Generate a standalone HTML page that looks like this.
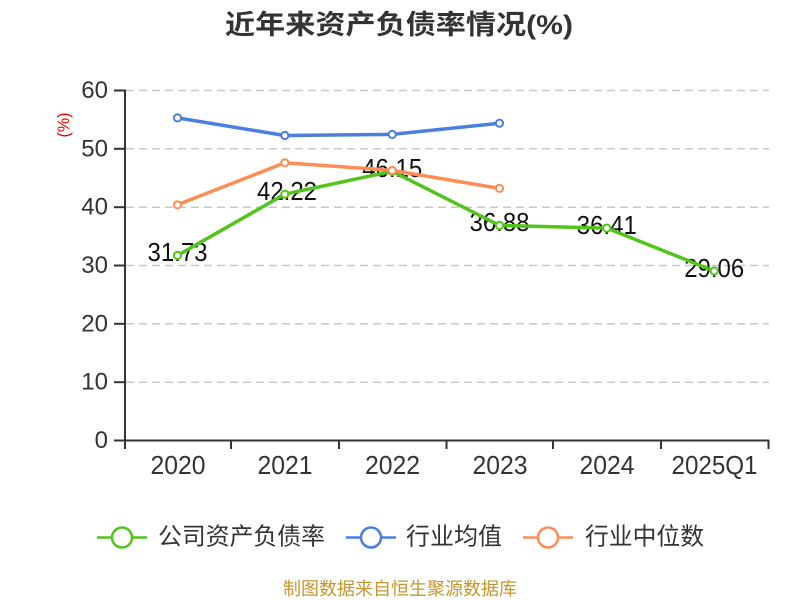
<!DOCTYPE html>
<html><head><meta charset="utf-8"><style>
html,body{margin:0;padding:0;background:#fff;}
svg{display:block;}
</style></head><body>
<svg width="800" height="600" viewBox="0 0 800 600" xmlns="http://www.w3.org/2000/svg">
<rect width="800" height="600" fill="#fff"/>
<!-- title -->
<text x="225" y="34" font-family="'Liberation Sans','Noto Sans CJK SC',sans-serif" font-weight="bold" font-size="27" fill="#333" textLength="348" lengthAdjust="spacingAndGlyphs">近年来资产负债率情况(%)</text>
<!-- y unit -->
<text transform="translate(69,125) rotate(-90)" text-anchor="middle" font-family="'Liberation Sans',sans-serif" font-size="17" fill="#e00" textLength="25" lengthAdjust="spacingAndGlyphs">(%)</text>
<!-- grid -->
<g stroke="#c8c8c8" stroke-width="1.5" stroke-dasharray="8,5">
<line x1="126" y1="90.5" x2="769" y2="90.5"/>
<line x1="126" y1="148.8" x2="769" y2="148.8"/>
<line x1="126" y1="207.2" x2="769" y2="207.2"/>
<line x1="126" y1="265.5" x2="769" y2="265.5"/>
<line x1="126" y1="323.8" x2="769" y2="323.8"/>
<line x1="126" y1="382.2" x2="769" y2="382.2"/>
</g>
<!-- axes -->
<g stroke="#333" stroke-width="2">
<line x1="125" y1="89.5" x2="125" y2="441"/>
<line x1="114" y1="90.5" x2="125" y2="90.5"/>
<line x1="114" y1="148.8" x2="125" y2="148.8"/>
<line x1="114" y1="207.2" x2="125" y2="207.2"/>
<line x1="114" y1="265.5" x2="125" y2="265.5"/>
<line x1="114" y1="323.8" x2="125" y2="323.8"/>
<line x1="114" y1="382.2" x2="125" y2="382.2"/>
<line x1="114" y1="440.5" x2="769" y2="440.5"/>
<line x1="125" y1="440" x2="125" y2="449"/>
<line x1="231" y1="440" x2="231" y2="449"/>
<line x1="339" y1="440" x2="339" y2="449"/>
<line x1="446.5" y1="440" x2="446.5" y2="449"/>
<line x1="553" y1="440" x2="553" y2="449"/>
<line x1="661" y1="440" x2="661" y2="449"/>
<line x1="768.5" y1="440" x2="768.5" y2="449"/>
</g>
<!-- y labels -->
<g font-family="'Liberation Sans',sans-serif" font-size="24" fill="#333" text-anchor="end">
<text x="108" y="98">60</text>
<text x="108" y="156.3">50</text>
<text x="108" y="214.7">40</text>
<text x="108" y="273">30</text>
<text x="108" y="331.3">20</text>
<text x="108" y="389.7">10</text>
<text x="108" y="448">0</text>
</g>
<!-- x labels -->
<g font-family="'Liberation Sans',sans-serif" font-size="26" fill="#333" text-anchor="middle">
<text x="178" y="474" textLength="55" lengthAdjust="spacingAndGlyphs">2020</text>
<text x="285" y="474" textLength="55" lengthAdjust="spacingAndGlyphs">2021</text>
<text x="392.5" y="474" textLength="55" lengthAdjust="spacingAndGlyphs">2022</text>
<text x="500" y="474" textLength="55" lengthAdjust="spacingAndGlyphs">2023</text>
<text x="607" y="474" textLength="55" lengthAdjust="spacingAndGlyphs">2024</text>
<text x="714.5" y="474" textLength="86" lengthAdjust="spacingAndGlyphs">2025Q1</text>
</g>
<!-- data labels -->
<g font-family="'Liberation Sans',sans-serif" font-size="26" fill="#111" text-anchor="middle">
<text x="177.5" y="261" textLength="60" lengthAdjust="spacingAndGlyphs">31.73</text>
<text x="287" y="200" textLength="60" lengthAdjust="spacingAndGlyphs">42.22</text>
<text x="392.2" y="177" textLength="60" lengthAdjust="spacingAndGlyphs">46.15</text>
<text x="499.5" y="231" textLength="60" lengthAdjust="spacingAndGlyphs">36.88</text>
<text x="606.8" y="234" textLength="60" lengthAdjust="spacingAndGlyphs">36.41</text>
<text x="714.2" y="277" textLength="60" lengthAdjust="spacingAndGlyphs">29.06</text>
</g>
<!-- series lines -->
<g fill="none" stroke-width="3.5" stroke-linejoin="round">
<polyline stroke="#52c41a" points="177.5,255.4 284.8,194.2 392.2,171.3 499.5,225.4 606.8,228.1 714.2,271"/>
<polyline stroke="#4a7fe0" points="177.5,117.9 284.8,135.5 392.2,134.4 499.5,123.2"/>
<polyline stroke="#ff8c55" points="177.5,204.8 284.8,162.8 392.2,170.4 499.5,188.4"/>
</g>
<!-- symbols -->
<g fill="#fff" stroke-width="2">
<g stroke="#52c41a">
<circle cx="177.5" cy="255.4" r="3.6"/><circle cx="284.8" cy="194.2" r="3.6"/><circle cx="392.2" cy="171.3" r="3.6"/><circle cx="499.5" cy="225.4" r="3.6"/><circle cx="606.8" cy="228.1" r="3.6"/><circle cx="714.2" cy="271" r="3.6"/>
</g>
<g stroke="#4a7fe0">
<circle cx="177.5" cy="117.9" r="3.6"/><circle cx="284.8" cy="135.5" r="3.6"/><circle cx="392.2" cy="134.4" r="3.6"/><circle cx="499.5" cy="123.2" r="3.6"/>
</g>
<g stroke="#ff8c55">
<circle cx="177.5" cy="204.8" r="3.6"/><circle cx="284.8" cy="162.8" r="3.6"/><circle cx="392.2" cy="170.4" r="3.6"/><circle cx="499.5" cy="188.4" r="3.6"/>
</g>
</g>
<!-- legend -->
<g stroke-width="2.5">
<line x1="97" y1="537.5" x2="147" y2="537.5" stroke="#52c41a"/>
<circle cx="122" cy="537.5" r="10" fill="#fff" stroke="#52c41a"/>
<line x1="346" y1="537.5" x2="396" y2="537.5" stroke="#4a7fe0"/>
<circle cx="371" cy="537.5" r="10" fill="#fff" stroke="#4a7fe0"/>
<line x1="523" y1="537.5" x2="573" y2="537.5" stroke="#ff8c55"/>
<circle cx="548" cy="537.5" r="10" fill="#fff" stroke="#ff8c55"/>
</g>
<g font-family="'Liberation Sans','Noto Sans CJK SC',sans-serif" font-size="24" fill="#333" dominant-baseline="central">
<text x="158" y="537" textLength="167" lengthAdjust="spacingAndGlyphs">公司资产负债率</text>
<text x="406" y="537" textLength="96" lengthAdjust="spacingAndGlyphs">行业均值</text>
<text x="585" y="537" textLength="119" lengthAdjust="spacingAndGlyphs">行业中位数</text>
</g>
<!-- footer -->
<text x="283" y="589" dominant-baseline="central" font-family="'Liberation Sans','Noto Sans CJK SC',sans-serif" font-size="18" fill="#c8962d" textLength="234" lengthAdjust="spacingAndGlyphs">制图数据来自恒生聚源数据库</text>
</svg>
</body></html>
